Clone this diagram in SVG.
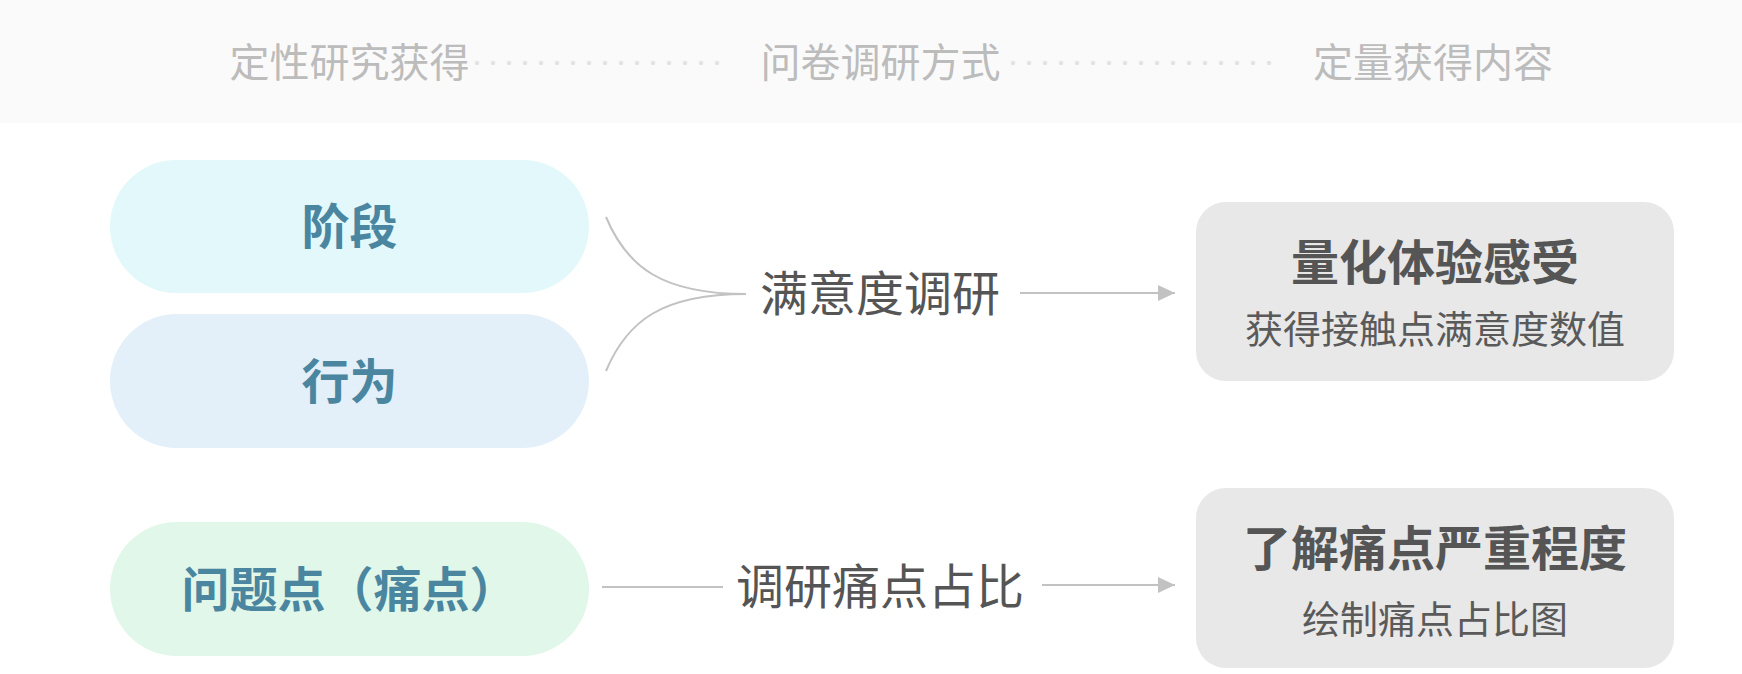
<svg xmlns="http://www.w3.org/2000/svg" width="1742" height="674" viewBox="0 0 1742 674">
<defs>
<marker id="arr" markerWidth="17" markerHeight="16" refX="17" refY="8" orient="auto" markerUnits="userSpaceOnUse">
<path d="M0,0 L17,8 L0,16 Z" fill="#c2c2c2"/>
</marker>
<style>
text{font-family:"Noto Sans CJK SC","Noto Sans",sans-serif;text-anchor:middle}
.hdr{font-size:40px;fill:#bcbcbc}
.dots{stroke:#e3e3e3;stroke-width:4.5;stroke-linecap:round;stroke-dasharray:0 16;fill:none}
.pilltxt{font-size:48px;font-weight:700;fill:#4a86a0}
.mid{font-size:48px;fill:#555}
.ttl{font-size:48px;font-weight:700;fill:#555}
.sub{font-size:38px;fill:#5a5a5a}
.box{fill:#e8e8e8}
.ln{stroke:#c2c2c2;stroke-width:2;fill:none}
</style>
</defs>
<rect width="1742" height="674" fill="#ffffff"/>
<g id="header">
<rect x="0" y="0" width="1742" height="123" fill="#fafafa"/>
<text class="hdr" x="349.5" y="77">定性研究获得</text>
<text class="hdr" x="880.5" y="77">问卷调研方式</text>
<text class="hdr" x="1433" y="77">定量获得内容</text>
<line class="dots" x1="477" y1="63" x2="733" y2="63"/>
<line class="dots" x1="1013" y1="63" x2="1285" y2="63"/>
</g>
<g id="stage">
<rect x="110" y="160" width="479" height="133" rx="66.5" fill="#e2f8fb"/>
<text class="pilltxt" x="349.5" y="244">阶段</text>
</g>
<g id="behavior">
<rect x="110" y="314" width="479" height="134" rx="67" fill="#e3f0fa"/>
<text class="pilltxt" x="349.5" y="399">行为</text>
</g>
<g id="painpoint">
<rect x="110" y="522" width="479" height="134" rx="67" fill="#e1f7e9"/>
<text class="pilltxt" x="349.5" y="607">问题点（痛点）</text>
</g>
<g id="satisfaction">
<text class="mid" x="880" y="311">满意度调研</text>
</g>
<g id="painratio">
<text class="mid" x="880" y="604">调研痛点占比</text>
</g>
<g id="quantify">
<rect class="box" x="1196" y="202" width="478" height="179" rx="30"/>
<text class="ttl" x="1435" y="280">量化体验感受</text>
<text class="sub" x="1435" y="343">获得接触点满意度数值</text>
</g>
<g id="severity">
<rect class="box" x="1196" y="488" width="478" height="180" rx="30"/>
<text class="ttl" x="1435" y="566">了解痛点严重程度</text>
<text class="sub" x="1435" y="633">绘制痛点占比图</text>
</g>
<g id="connectors">
<path class="ln" d="M606,217 C627,267 662,294 746,294"/>
<path class="ln" d="M606,371 C627,321 662,294 746,294"/>
<line class="ln" x1="1020" y1="293" x2="1175" y2="293" marker-end="url(#arr)"/>
<line class="ln" x1="602" y1="587" x2="723" y2="587"/>
<line class="ln" x1="1042" y1="585" x2="1175" y2="585" marker-end="url(#arr)"/>
</g>
</svg>
